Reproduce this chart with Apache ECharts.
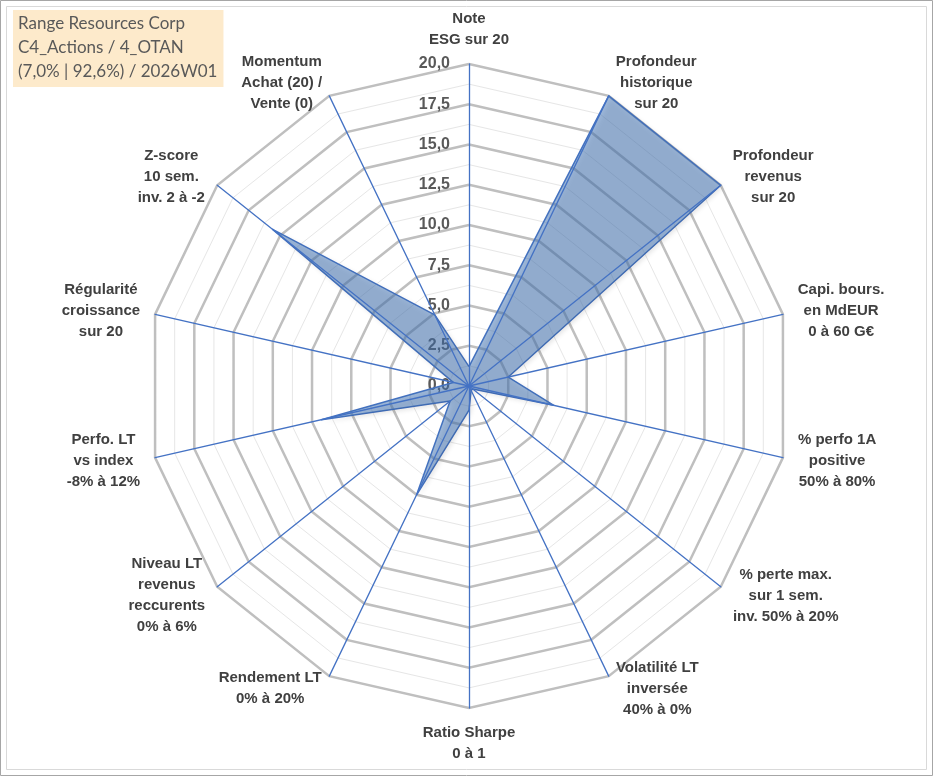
<!DOCTYPE html>
<html>
<head>
<meta charset="utf-8">
<script src="https://cdn.jsdelivr.net/npm/echarts@6/dist/echarts.min.js"></script>
<style>
  html, body { margin: 0; padding: 0; background: #fff; }
  #radar-chart { width: 933px; height: 776px; }
</style>
</head>
<body>
<div id="radar-chart"></div>
<script>
// titre (encadré en haut à gauche)
var titleLines = ['Range Resources Corp', 'C4_Actions / 4_OTAN', '(7,0% | 92,6%) / 2026W01'];

// axes dans l'ordre du graphique (sens horaire depuis le haut)
var axisNames = [
  'Note\nESG sur 20',
  'Profondeur\nhistorique\nsur 20',
  'Profondeur\nrevenus\nsur 20',
  'Capi. bours.\nen MdEUR\n0 à 60 G€',
  '% perfo 1A\npositive\n50% à 80%',
  '% perte max.\nsur 1 sem.\ninv. 50% à 20%',
  'Volatilité LT\ninversée\n40% à 0%',
  'Ratio Sharpe\n0 à 1',
  'Rendement LT\n0% à 20%',
  'Niveau LT\nrevenus\nreccurents\n0% à 6%',
  'Perfo. LT\nvs index\n-8% à 12%',
  'Régularité\ncroissance\nsur 20',
  'Z-score\n10 sem.\ninv. 2 à -2',
  'Momentum\nAchat (20) /\nVente (0)'
];

// notes sur 20
var scores = [1.2, 20, 20, 2.5, 5.4, 0.3, 0.3, 1.5, 7.5, 1.5, 9.4, 1.0, 15.6, 4.9];

var scaleMin = 0;
var scaleMax = 20;
var majorSplits = 8;   // 2,5 par anneau
var minorSplits = 16;

// ECharts place les indicateurs dans le sens anti-horaire : on inverse
var order = [0];
for (var i = axisNames.length - 1; i > 0; i--) order.push(i);

var nameFamily = '"Liberation Sans", Arial, sans-serif';
var nameSize = 15;
var ctx = document.createElement('canvas').getContext('2d');
ctx.font = 'bold ' + nameSize + 'px ' + nameFamily;
var rich = {};
order.forEach(function (k) {
  var w = 0;
  axisNames[k].split('\n').forEach(function (l) {
    w = Math.max(w, ctx.measureText(l).width);
  });
  rich['n' + k] = {
    width: Math.ceil(w) + 2,
    align: 'center',
    fontSize: nameSize,
    fontWeight: 'bold',
    fontFamily: nameFamily,
    lineHeight: 21,
    color: '#404040'
  };
});

function indicators(withLabel) {
  return order.map(function (k, idx) {
    var ind = { name: axisNames[k], min: scaleMin, max: scaleMax };
    if (withLabel) ind.axisLabel = { show: idx === 0 };
    return ind;
  });
}

var center = [469, 386];
var radius = 322;

var option = {
  animation: false,
  backgroundColor: '#ffffff',
  title: {
    text: titleLines.join('\n'),
    left: 13,
    top: 10,
    backgroundColor: '#FDEACB',
    padding: [2, 6, 3, 5],
    textStyle: {
      fontFamily: 'Lato, "Liberation Sans", sans-serif',
      fontSize: 17,
      fontWeight: 'normal',
      color: '#595959',
      lineHeight: 24
    }
  },
  graphic: [
    { type: 'rect', shape: { x: 0.5, y: 0.5, width: 932, height: 775 },
      style: { fill: 'none', stroke: '#a6a6a6', lineWidth: 1 }, z: -10 },
    { type: 'rect', shape: { x: 6.5, y: 6.5, width: 920, height: 763 },
      style: { fill: 'none', stroke: '#d9d9d9', lineWidth: 1 }, z: -10 }
  ],
  radar: [
    // anneaux secondaires
    {
      center: center, radius: radius, shape: 'polygon', splitNumber: minorSplits,
      indicator: indicators(false),
      axisName: { show: false },
      axisLine: { show: false },
      axisTick: { show: false },
      axisLabel: { show: false },
      splitArea: { show: false },
      splitLine: { lineStyle: { color: '#e6e6e6', width: 1 } },
      z: 0
    },
    // anneaux principaux, graduations et noms
    {
      center: center, radius: radius, shape: 'polygon', splitNumber: majorSplits,
      indicator: indicators(true),
      nameGap: 14,
      axisName: {
        formatter: function (name) {
          var k = axisNames.indexOf(name);
          return name.split('\n').map(function (l) {
            return '{n' + k + '|' + l + '}';
          }).join('\n');
        },
        rich: rich
      },
      axisLine: { show: false },
      axisTick: { show: false },
      axisLabel: {
        show: true,
        margin: 19,
        color: '#595959',
        fontSize: 16,
        fontWeight: 'bold',
        fontFamily: nameFamily,
        verticalAlign: 'middle',
        padding: [0, 0, 6, 0],
        formatter: function (v) { return v.toFixed(1).replace('.', ','); }
      },
      splitArea: { show: false },
      splitLine: { lineStyle: { color: '#bfbfbf', width: 2.5 } },
      z: 1
    },
    // rayons bleus au-dessus
    {
      center: center, radius: radius, shape: 'polygon', splitNumber: majorSplits,
      indicator: indicators(false),
      axisName: { show: false },
      axisLine: { show: true, lineStyle: { color: '#4472C4', width: 1.3 } },
      axisTick: { show: false },
      axisLabel: { show: false },
      splitArea: { show: false },
      splitLine: { show: false },
      z: 5
    }
  ],
  series: [{
    type: 'radar',
    radarIndex: 1,
    symbol: 'none',
    z: 3,
    lineStyle: { color: '#4472C4', width: 1.5 },
    areaStyle: {
      color: 'rgba(70,120,185,0.74)',
      shadowBlur: 5,
      shadowColor: 'rgba(0,0,0,0.22)',
      shadowOffsetX: 2,
      shadowOffsetY: 2
    },
    data: [{ value: order.map(function (k) { return scores[k]; }) }]
  }]
};

var myChart = echarts.init(document.getElementById('radar-chart'));
myChart.setOption(option);
</script>
</body>
</html>
